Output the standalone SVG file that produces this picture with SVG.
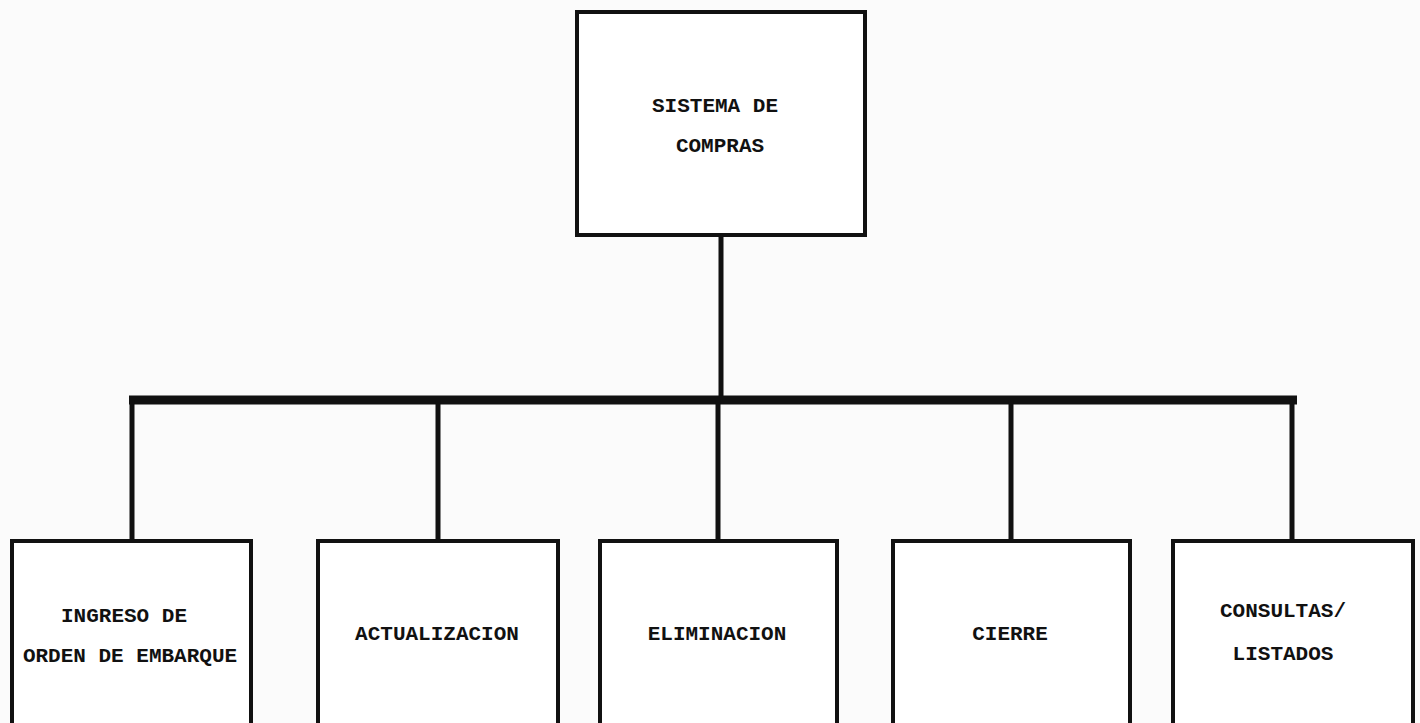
<svg xmlns="http://www.w3.org/2000/svg" width="1420" height="723" viewBox="0 0 1420 723">
<style>
.box{fill:#fff;stroke:#111;stroke-width:4}
.lbl{font-family:"Liberation Mono","DejaVu Sans Mono",monospace;font-weight:bold;font-size:21px;fill:#111;text-anchor:middle}
.c{stroke:#111;fill:none}
</style>
<rect width="1420" height="723" fill="#fbfbfb"/>
<g id="connectors">
<line class="c" x1="721" y1="235" x2="721" y2="400" stroke-width="5"/>
<line class="c" x1="129" y1="400" x2="1297" y2="400" stroke-width="9"/>
<line class="c" x1="132" y1="400" x2="132" y2="541" stroke-width="5"/>
<line class="c" x1="438" y1="400" x2="438" y2="541" stroke-width="5"/>
<line class="c" x1="718" y1="400" x2="718" y2="541" stroke-width="5"/>
<line class="c" x1="1011" y1="400" x2="1011" y2="541" stroke-width="5"/>
<line class="c" x1="1292" y1="400" x2="1292" y2="541" stroke-width="5"/>
</g>
<g id="root">
<rect class="box" x="577" y="12" width="288" height="223"/>
<text class="lbl" x="715" y="112">SISTEMA DE</text>
<text class="lbl" x="720" y="152">COMPRAS</text>
</g>
<g id="ingreso">
<rect class="box" x="12" y="541" width="239" height="186"/>
<text class="lbl" x="124" y="622">INGRESO DE</text>
<text class="lbl" x="130" y="662">ORDEN DE EMBARQUE</text>
</g>
<g id="actualizacion">
<rect class="box" x="318" y="541" width="240" height="186"/>
<text class="lbl" x="437" y="640">ACTUALIZACION</text>
</g>
<g id="eliminacion">
<rect class="box" x="600" y="541" width="237" height="186"/>
<text class="lbl" x="717" y="640">ELIMINACION</text>
</g>
<g id="cierre">
<rect class="box" x="893" y="541" width="237" height="186"/>
<text class="lbl" x="1010" y="640">CIERRE</text>
</g>
<g id="consultas">
<rect class="box" x="1173" y="541" width="240" height="186"/>
<text class="lbl" x="1283" y="617">CONSULTAS/</text>
<text class="lbl" x="1283" y="660">LISTADOS</text>
</g>
</svg>
